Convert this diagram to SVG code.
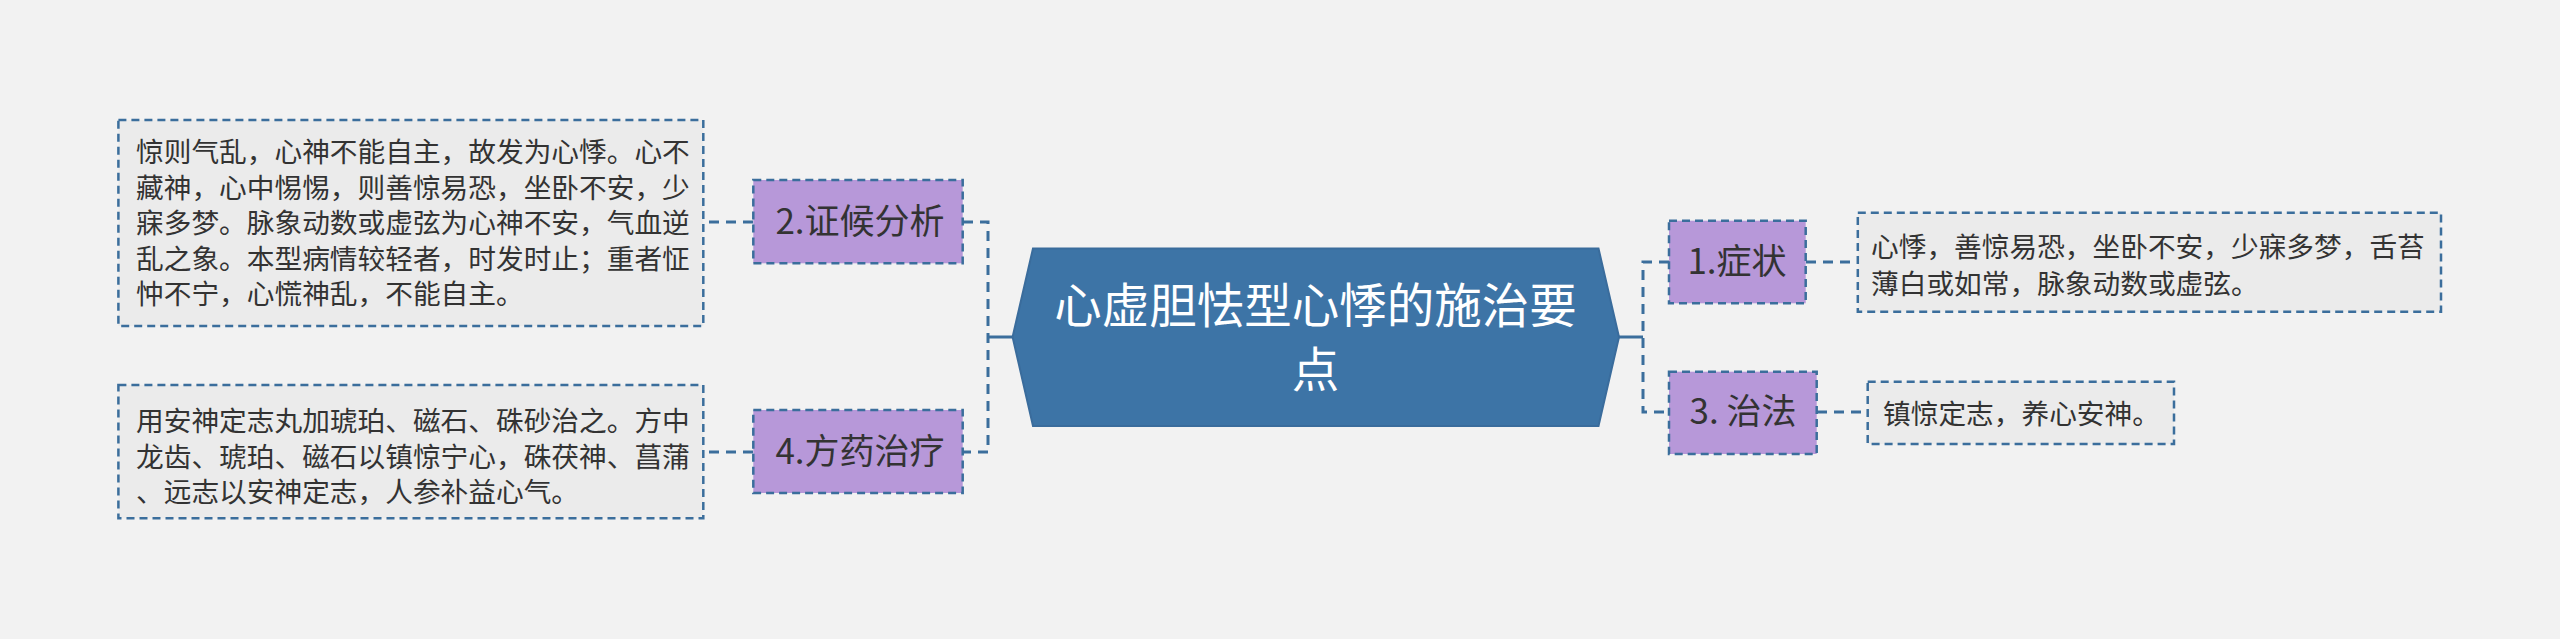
<svg xmlns="http://www.w3.org/2000/svg" width="2560" height="639" viewBox="0 0 2560 639">
<style>
.bg{fill:#f2f2f2}
.leaf{fill:#ebebeb;stroke:#3b6e9c;stroke-width:2.5;stroke-dasharray:8 5}
.sub{fill:#b798d9;stroke:#3b6e9c;stroke-width:2.5;stroke-dasharray:8 5}
.root{fill:#3d74a6;stroke:#3a6c9c;stroke-width:2}
.conn{fill:none;stroke:#3b6e9c;stroke-width:3;stroke-dasharray:10 7}
.solid{fill:none;stroke:#3b6e9c;stroke-width:3}
.t{font-family:"Microsoft YaHei","Noto Sans CJK SC","Noto Sans",sans-serif;fill:#333333}
.lt{font-size:27.7px}
.st{font-size:35px;text-anchor:middle}
.rt{font-family:"Microsoft YaHei","Noto Sans CJK SC","Noto Sans",sans-serif;fill:#ffffff;font-size:47.5px;text-anchor:middle}
</style>
<rect class="bg" x="0" y="0" width="2560" height="639"/>
<g id="connectors">
<path class="conn" d="M963 222 H988 V452 H963"/>
<path class="solid" d="M988 337 H1013"/>
<path class="conn" d="M1669 262 H1643 V412 H1669"/>
<path class="solid" d="M1619 337 H1643"/>
<path class="conn" d="M753 222 H703"/>
<path class="conn" d="M753 452 H703"/>
<path class="conn" d="M1806 262 H1858"/>
<path class="conn" d="M1817 412 H1868"/>
</g>
<g id="root">
<polygon class="root" points="1012.6,337 1033,248.5 1598.5,248.5 1619,337 1598.5,426 1033,426"/>
<text class="rt" x="1315.6" y="323">心虚胆怯型心悸的施治要</text>
<text class="rt" x="1315.6" y="387">点</text>
</g>
<g id="n2">
<rect class="sub" x="753.3" y="180" width="209.4" height="83.3"/>
<text class="t st" x="860" y="234">2.证候分析</text>
</g>
<g id="n2-leaf">
<rect class="leaf" x="118.4" y="120" width="584.9" height="206"/>
<text class="t lt" x="136" y="162">惊则气乱，心神不能自主，故发为心悸。心不</text>
<text class="t lt" x="136" y="197.6">藏神，心中惕惕，则善惊易恐，坐卧不安，少</text>
<text class="t lt" x="136" y="233.2">寐多梦。脉象动数或虚弦为心神不安，气血逆</text>
<text class="t lt" x="136" y="268.8">乱之象。本型病情较轻者，时发时止；重者怔</text>
<text class="t lt" x="136" y="304.4">忡不宁，心慌神乱，不能自主。</text>
</g>
<g id="n4">
<rect class="sub" x="753.3" y="410" width="209.4" height="83"/>
<text class="t st" x="860" y="464">4.方药治疗</text>
</g>
<g id="n4-leaf">
<rect class="leaf" x="118.4" y="385" width="584.9" height="133.3"/>
<text class="t lt" x="136" y="430.5">用安神定志丸加琥珀、磁石、硃砂治之。方中</text>
<text class="t lt" x="136" y="467">龙齿、琥珀、磁石以镇惊宁心，硃茯神、菖蒲</text>
<text class="t lt" x="136" y="502">、远志以安神定志，人参补益心气。</text>
</g>
<g id="n1">
<rect class="sub" x="1669" y="220.7" width="136.7" height="82.6"/>
<text class="t st" x="1737" y="274">1.症状</text>
</g>
<g id="n1-leaf">
<rect class="leaf" x="1857.8" y="212.7" width="583.2" height="99"/>
<text class="t lt" x="1871" y="257">心悸，善惊易恐，坐卧不安，少寐多梦，舌苔</text>
<text class="t lt" x="1871" y="293.6">薄白或如常，脉象动数或虚弦。</text>
</g>
<g id="n3">
<rect class="sub" x="1669" y="371.7" width="147.7" height="82.3"/>
<text class="t st" x="1743" y="424">3. 治法</text>
</g>
<g id="n3-leaf">
<rect class="leaf" x="1867.7" y="381.7" width="306.3" height="62.3"/>
<text class="t lt" x="1883" y="423.6">镇惊定志，养心安神。</text>
</g>
</svg>
